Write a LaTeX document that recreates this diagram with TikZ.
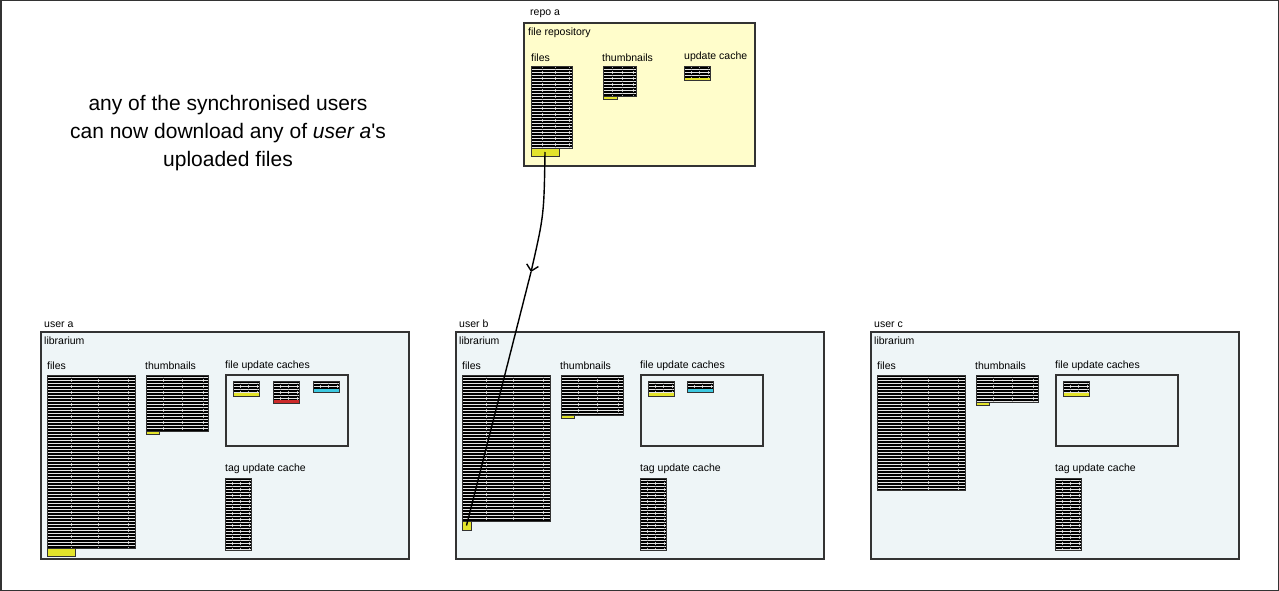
\documentclass[tikz,border=0pt]{standalone}
\usepackage{fontspec}
\setmainfont{Liberation Sans}
\usetikzlibrary{calc, positioning, arrows.meta}
\definecolor{libfill}{HTML}{EEF5F7}
\definecolor{repofill}{HTML}{FFFDCB}
\definecolor{tabyellow}{HTML}{E3E32B}
\definecolor{tabred}{HTML}{CC2A2A}
\definecolor{tabcyan}{HTML}{3CC8E0}
\definecolor{edge}{HTML}{333333}
\tikzset{
    frame/.style={draw=edge, line width=1.5pt, anchor=north west, inner sep=0pt, outer sep=0pt},
    libbox/.style={frame, fill=libfill, minimum width=368pt, minimum height=227pt},
    repobox/.style={frame, fill=repofill, minimum width=231pt, minimum height=143pt},
    cachebox/.style={frame, minimum width=122pt, minimum height=71pt},
    lbl/.style={anchor=base west, inner sep=0pt, font=\fontsize{10.5}{12}\selectfont},
    rows/.style={draw=edge, line width=1pt, fill=black, anchor=north west, inner sep=0pt, outer sep=0pt,
        path picture={
            \foreach \k in {2.5,5.5,...,200}
                \draw[white!90!black, line width=1pt] ([yshift=-\k pt]path picture bounding box.north west) -- ([yshift=-\k pt]path picture bounding box.north east);
            \foreach \f in {0.27,0.58,0.92}
                \draw[gray!60, line width=0.3pt, dash pattern=on 1pt off 1pt] ($(path picture bounding box.north west)!\f!(path picture bounding box.north east)$) -- ($(path picture bounding box.south west)!\f!(path picture bounding box.south east)$);
        }},
    tab/.style={draw=edge, line width=1pt, fill=tabyellow, anchor=north west, inner sep=0pt, outer sep=0pt},
    sync/.style={-{Straight Barb[length=6pt, width=12pt]}, line width=1.4pt, black}
}
% a small cache block with a coloured last row
\newcommand\cacheblock[5]{%
    \node[rows, minimum width=26pt, minimum height=#4pt] (#1) at (#2,#3) {};
    \fill[#5] ([shift={(0.5pt,0.5pt)}]#1.south west) rectangle ([shift={(-0.5pt,3pt)}]#1.south east);
}

\begin{document}
\begin{tikzpicture}[x=1pt, y=-1pt]
    \useasboundingbox (0,0) rectangle (1279,591);
    \draw[edge, line width=1.5pt] (0.75,0.75) rectangle (1278.25,590.25);

    \node[font=\fontsize{21}{28}\selectfont, align=center] (note) at (228,133)
        {any of the synchronised users\\can now download any of \textit{user a}\textquotesingle s\\uploaded files};

    % repository
    \node[lbl] (repo-lbl) at (530,16) {repo a};
    \node[repobox] (repo) at (524,23) {};
    \node[lbl] (repo-name) at (528,36) {file repository};
    \node[lbl] (repo-files-lbl) at (531,61.5) {files};
    \node[lbl] (repo-thumbs-lbl) at (602,61.5) {thumbnails};
    \node[lbl] (repo-cache-lbl) at (684,60) {update cache};
    \node[rows, minimum width=41pt, minimum height=81pt] (repo-files) at (531,67) {};
    \node[tab, minimum width=28pt, minimum height=8pt] (repo-new) at (531,148) {};
    \node[rows, minimum width=33pt, minimum height=30pt] (repo-thumbs) at (603,67) {};
    \node[tab, minimum width=14pt, minimum height=3pt] (repo-thumb-new) at (603,97) {};
    \cacheblock{repo-cache}{684}{67}{14}{tabyellow}

    % the three librariums
    \foreach \u/\x in {a/0, b/415, c/830} {
        \node[lbl] (user-\u) at (\x+44,327) {user \u};
        \node[libbox] (lib-\u) at (\x+41,332) {};
        \node[lbl] (lib-name-\u) at (\x+44,344) {librarium};
        \node[lbl] (files-lbl-\u) at (\x+47,369.5) {files};
        \node[lbl] (thumbs-lbl-\u) at (\x+145,369.5) {thumbnails};
        \node[lbl] (caches-lbl-\u) at (\x+225,368.5) {file update caches};
        \node[cachebox] (caches-\u) at (\x+226,375) {};
        \node[lbl] (tag-lbl-\u) at (\x+225,471.5) {tag update cache};
        \node[rows, minimum width=26pt, minimum height=72pt] (tag-\u) at (\x+225,478) {};
    }

    % user a
    \node[rows, minimum width=88pt, minimum height=173pt] (files-a) at (47,375) {};
    \node[tab, minimum width=28pt, minimum height=8pt] (new-a) at (47,548) {};
    \node[rows, minimum width=62pt, minimum height=56pt] (thumbs-a) at (146,375) {};
    \node[tab, minimum width=13pt, minimum height=3pt] (thumb-new-a) at (146,431) {};
    \cacheblock{cache-a1}{233}{381}{15}{tabyellow}
    \cacheblock{cache-a2}{273}{381}{22}{tabred}
    \cacheblock{cache-a3}{313}{381}{11}{tabcyan}

    % user b
    \node[rows, minimum width=88pt, minimum height=146pt] (files-b) at (462,375) {};
    \node[tab, minimum width=9pt, minimum height=9pt] (new-b) at (462,521) {};
    \node[rows, minimum width=62pt, minimum height=40pt] (thumbs-b) at (561,375) {};
    \node[tab, minimum width=13pt, minimum height=3pt] (thumb-new-b) at (561,415) {};
    \cacheblock{cache-b1}{648}{381}{15}{tabyellow}
    \cacheblock{cache-b2}{687}{381}{11}{tabcyan}

    % user c
    \node[rows, minimum width=88pt, minimum height=115pt] (files-c) at (877,375) {};
    \node[rows, minimum width=62pt, minimum height=27pt] (thumbs-c) at (976,375) {};
    \node[tab, minimum width=13pt, minimum height=3pt] (thumb-new-c) at (976,402) {};
    \cacheblock{cache-c1}{1063}{381}{15}{tabyellow}

    % download
    \coordinate (turn) at (531,272);
    \draw[sync] (repo-new.center) .. controls (544,215) .. (turn);
    \draw[line width=1.4pt] (turn) -- (new-b.center);
\end{tikzpicture}
\end{document}
